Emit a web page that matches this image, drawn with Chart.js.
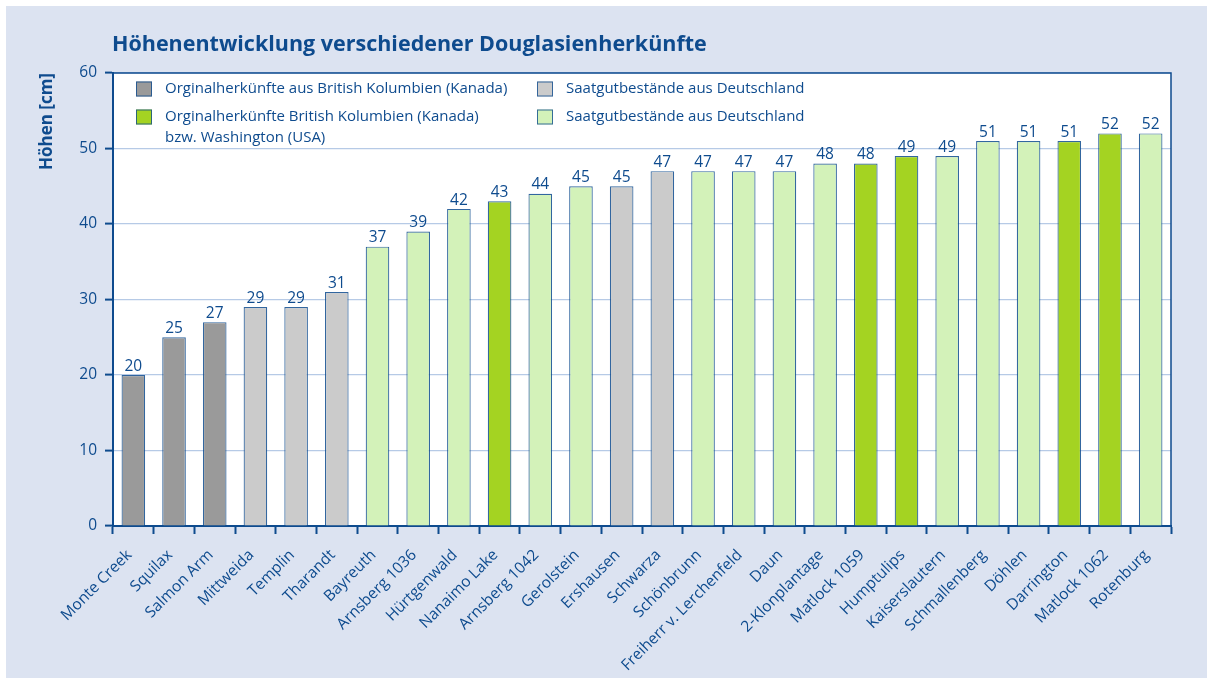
<!DOCTYPE html>
<html>
<head>
<meta charset="utf-8">
<script src="https://cdn.jsdelivr.net/npm/chart.js@4.4.1/dist/chart.umd.min.js"></script>
<style>
  html, body { margin: 0; padding: 0; background: #ffffff; }
  #wrap { position: relative; width: 1208px; height: 678px; }
</style>
</head>
<body>
<div id="wrap"><canvas id="c" width="1208" height="678"></canvas></div>
<script>
// ---- Data ----
const chartTitle = "Höhenentwicklung verschiedener Douglasienherkünfte";
const yAxisTitle = "Höhen [cm]";
const categories = [
  "Monte Creek", "Squilax", "Salmon Arm", "Mittweida", "Templin", "Tharandt",
  "Bayreuth", "Arnsberg 1036", "Hürtgenwald", "Nanaimo Lake", "Arnsberg 1042",
  "Gerolstein", "Ershausen", "Schwarza", "Schönbrunn", "Freiherr v. Lerchenfeld",
  "Daun", "2-Klonplantage", "Matlock 1059", "Humptulips", "Kaiserslautern",
  "Schmallenberg", "Döhlen", "Darrington", "Matlock 1062", "Rotenburg"
];
const heights = [20, 25, 27, 29, 29, 31, 37, 39, 42, 43, 44, 45, 45, 47, 47, 47, 47, 48, 48, 49, 49, 51, 51, 51, 52, 52];
// group index per category: 0 = Orginalherkünfte BC (Kanada), 1 = Saatgut DE (grau),
// 2 = Orginalherkünfte BC/Washington, 3 = Saatgut DE (hellgrün)
const groups = [0, 0, 0, 1, 1, 1, 3, 3, 3, 2, 3, 3, 1, 1, 3, 3, 3, 3, 2, 2, 3, 3, 3, 2, 2, 3];
const groupLabels = [
  ["Orginalherkünfte aus British Kolumbien (Kanada)"],
  ["Saatgutbestände aus Deutschland"],
  ["Orginalherkünfte British Kolumbien (Kanada)", "bzw. Washington (USA)"],
  ["Saatgutbestände aus Deutschland"]
];
const yTicks = [0, 10, 20, 30, 40, 50, 60];

// ---- Styles ----
const BLUE = "#0e4b8e";
const groupColors = ["#9a9a9a", "#cbcbcb", "#a4d322", "#d3f2b9"];
const FONT = "'Open Sans', 'Noto Sans', sans-serif";

const bgPlugin = {
  id: "bg",
  beforeDraw(chart) {
    const ctx = chart.ctx;
    ctx.save();
    ctx.fillStyle = "#ffffff";
    ctx.fillRect(0, 0, chart.width, chart.height);
    ctx.fillStyle = "#dce3f1";
    ctx.fillRect(6, 6, 1201, 672);
    const a = chart.chartArea;
    ctx.fillStyle = "#ffffff";
    ctx.fillRect(a.left, a.top, a.right - a.left, a.bottom - a.top);
    ctx.restore();
  },
  afterDraw(chart) {
    const ctx = chart.ctx;
    const a = chart.chartArea;
    ctx.save();
    // top/right frame
    ctx.strokeStyle = BLUE;
    ctx.lineWidth = 1.5;
    ctx.beginPath();
    ctx.moveTo(a.left, a.top);
    ctx.lineTo(a.right, a.top);
    ctx.lineTo(a.right, a.bottom);
    ctx.stroke();
    // title
    ctx.fillStyle = BLUE;
    ctx.font = "bold 21.5px " + FONT;
    ctx.textAlign = "left";
    ctx.textBaseline = "middle";
    ctx.fillText(chartTitle, 112, 45);
    // legend
    ctx.font = "15px " + FONT;
    const pos = [[136, 89], [537, 89], [136, 117], [537, 117]];
    [0, 1, 2, 3].forEach((g, i) => {
      const [x, y] = pos[i];
      ctx.fillStyle = groupColors[g];
      ctx.fillRect(x, y - 7.5, 16, 15);
      ctx.strokeStyle = "rgba(14,75,142,0.8)";
      ctx.lineWidth = 1;
      ctx.strokeRect(x + 0.5, y - 7, 15, 14);
      ctx.fillStyle = BLUE;
      groupLabels[g].forEach((line, j) => {
        ctx.fillText(line, x + 29, y + j * 21);
      });
    });
    ctx.restore();
  },
  afterDatasetsDraw(chart) {
    const ctx = chart.ctx;
    const meta = chart.getDatasetMeta(0);
    ctx.save();
    ctx.fillStyle = BLUE;
    ctx.font = "15.5px " + FONT;
    ctx.textAlign = "center";
    ctx.textBaseline = "bottom";
    meta.data.forEach((bar, i) => {
      ctx.fillText(String(heights[i]), bar.x, bar.y - 1);
    });
    ctx.restore();
  }
};

new Chart(document.getElementById("c"), {
  type: "bar",
  data: {
    labels: categories,
    datasets: [{
      data: heights,
      backgroundColor: groups.map(g => groupColors[g]),
      borderColor: "rgba(14,75,142,0.85)",
      borderWidth: { top: 1.2, left: 1.2, right: 1.2, bottom: 0 },
      borderSkipped: "bottom",
      barPercentage: 0.58,
      categoryPercentage: 1.0
    }]
  },
  options: {
    responsive: false,
    animation: false,
    devicePixelRatio: 1,
    layout: { padding: { left: 0, top: 73, right: 37, bottom: 0 } },
    plugins: { legend: { display: false }, tooltip: { enabled: false }, title: { display: false } },
    scales: {
      x: {
        offset: true,
        grid: { offset: true, drawOnChartArea: false, drawTicks: true, tickLength: 8, tickColor: BLUE, tickWidth: 2, color: BLUE },
        border: { color: BLUE, width: 2 },
        ticks: { color: BLUE, font: { family: FONT, size: 15.5 }, minRotation: 45, maxRotation: 45, autoSkip: false, padding: 12, labelOffset: -4 },
        afterFit(scale) { scale.height = 152; }
      },
      y: {
        min: 0, max: 60,
        afterBuildTicks(scale) { scale.ticks = yTicks.map(v => ({ value: v })); },
        grid: { color: "#b6cae6", lineWidth: 1.2, tickLength: 8, tickColor: BLUE, tickWidth: 2, drawTicks: true },
        border: { color: BLUE, width: 2 },
        ticks: { color: BLUE, font: { family: FONT, size: 15.5 }, padding: 8 },
        title: { display: true, text: yAxisTitle, align: "end", color: BLUE, font: { family: FONT, size: 17, weight: "bold" }, padding: { top: 37, bottom: 0 } },
        afterFit(scale) { scale.width = 113; }
      }
    }
  },
  plugins: [bgPlugin]
});
</script>
</body>
</html>
